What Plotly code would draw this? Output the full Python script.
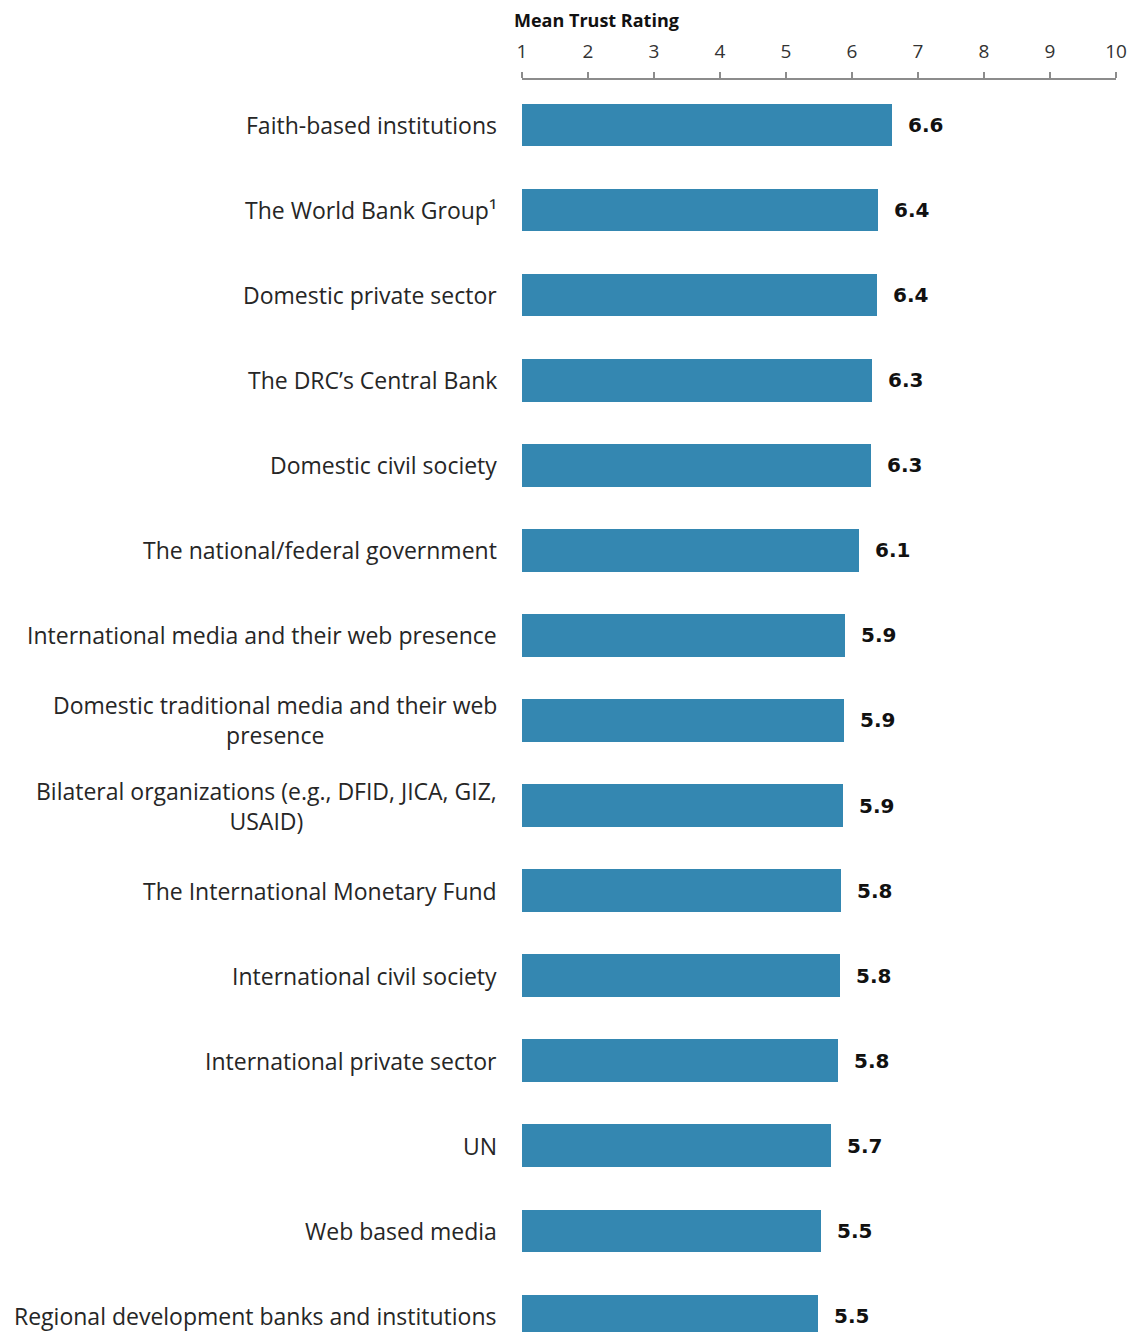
import plotly.graph_objects as go

categories = [
    "Faith-based institutions",
    "The World Bank Group¹",
    "Domestic private sector",
    "The DRC’s Central Bank",
    "Domestic civil society",
    "The national/federal government",
    "International media and their web presence",
    "Domestic traditional media and their web<br>presence",
    "Bilateral organizations (e.g., DFID, JICA, GIZ,<br>USAID)",
    "The International Monetary Fund",
    "International civil society",
    "International private sector",
    "UN",
    "Web based media",
    "Regional development banks and institutions",
]
values = [6.61, 6.39, 6.38, 6.30, 6.29, 6.11, 5.89, 5.88, 5.86, 5.83, 5.82, 5.79, 5.68, 5.53, 5.49]
value_labels = ["6.6", "6.4", "6.4", "6.3", "6.3", "6.1", "5.9", "5.9", "5.9", "5.8", "5.8", "5.8", "5.7", "5.5", "5.5"]
tick_vals = [1, 2, 3, 4, 5, 6, 7, 8, 9, 10]
axis_title = "Mean Trust Rating"
scale_min = 1

FONT = "Open Sans, sans-serif"
VFONT = "DejaVu Sans, sans-serif"
ypos = list(range(len(categories)))

fig = go.Figure()
fig.add_trace(go.Bar(
    x=[v - scale_min for v in values], y=ypos, orientation="h",
    base=scale_min, width=0.5,
    marker=dict(color="#3487B1", line=dict(width=0)),
    hoverinfo="skip",
))

annotations = []
for i, (cat, v, lab) in enumerate(zip(categories, values, value_labels)):
    annotations.append(dict(
        x=v, y=i, xref="x", yref="y", text="<b>" + lab + "</b>",
        showarrow=False, xanchor="left", yanchor="middle", xshift=14,
        font=dict(family=VFONT, size=20, color="#111111"),
    ))
    annotations.append(dict(
        x=0, y=i, xref="paper", yref="y", text=cat,
        showarrow=False, xanchor="right", yanchor="middle", align="center",
        xshift=-23,
        font=dict(family=FONT, size=23, color="#262626"),
    ))

annotations.append(dict(
    x=0, y=1, xref="paper", yref="paper", text="<b>" + axis_title + "</b>",
    showarrow=False, xanchor="left", yanchor="middle", xshift=-10, yshift=60,
    font=dict(family=FONT, size=18, color="#111111"),
))

fig.update_layout(
    width=1132, height=1332,
    margin=dict(l=522, r=16, t=80, b=0, autoexpand=False),
    paper_bgcolor="white", plot_bgcolor="white",
    showlegend=False,
    annotations=annotations,
    bargap=0,
)
fig.update_xaxes(
    side="top", range=[1, 10], tickvals=tick_vals,
    showline=True, linecolor="#8c8c8c", linewidth=2,
    ticks="outside", ticklen=6, tickcolor="#8c8c8c", tickwidth=1.5,
    showgrid=False, zeroline=False,
    tickfont=dict(family=FONT, size=19, color="#333333"),
    ticklabelstandoff=6, ticklabeloverflow="allow",
)
fig.update_yaxes(
    range=[14.19, -0.53], showticklabels=False, showgrid=False,
    zeroline=False, showline=False, ticks="",
)

fig.write_html(
    "out.html",
    config={"displayModeBar": False},
    post_script="document.body.style.margin='0';document.body.style.overflow='hidden';",
)
